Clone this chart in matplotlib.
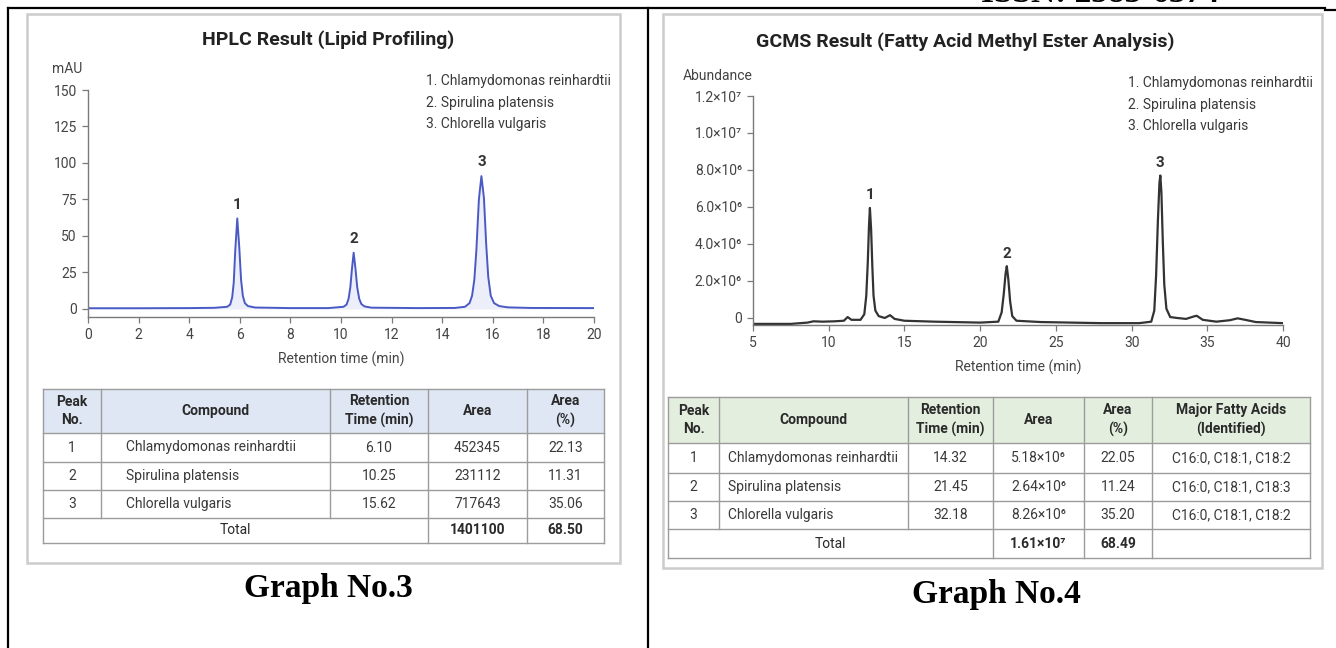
import matplotlib
matplotlib.use('Agg')
import matplotlib.pyplot as plt
from matplotlib.patches import Rectangle

plt.rcParams['font.family'] = ['Roboto', 'DejaVu Sans']

# HPLC chromatogram (min, mAU)
hplc_time = [0.0, 2.0, 4.0, 5.0, 5.5, 5.62, 5.7, 5.76, 5.82, 5.9, 5.98, 6.05, 6.12, 6.2, 6.32, 6.6,
             8.0, 9.5, 10.1, 10.22, 10.3, 10.37, 10.43, 10.5, 10.57, 10.64, 10.72, 10.8, 10.92, 11.2,
             13.0, 14.5, 14.9, 15.08, 15.18, 15.27, 15.35, 15.45, 15.55, 15.65, 15.74, 15.82, 15.92,
             16.05, 16.25, 16.6, 17.5, 20.0]
hplc_mau = [0.5, 0.5, 0.6, 0.8, 1.5, 3.0, 8.0, 18.0, 40.0, 62.0, 42.0, 20.0, 9.0, 4.0, 2.0, 1.0,
            0.6, 0.6, 1.5, 3.0, 7.0, 15.0, 27.0, 38.5, 28.0, 15.0, 7.0, 3.5, 1.8, 0.9,
            0.6, 0.7, 1.5, 4.0, 9.0, 20.0, 40.0, 75.0, 91.0, 76.0, 44.0, 22.0, 9.0,
            4.0, 2.0, 1.1, 0.7, 0.6]
hplc_peak_time = [5.9, 10.5, 15.55]
hplc_peak_mau = [62.0, 38.5, 91.0]
hplc_xticks = [0, 2, 4, 6, 8, 10, 12, 14, 16, 18, 20]
hplc_yticks = [0, 25, 50, 75, 100, 125, 150]

# GCMS trace (min, abundance in millions)
gcms_time = [5.0, 7.5, 8.6, 9.0, 9.6, 10.4, 11.0, 11.25, 11.5, 12.1,
             12.35, 12.48, 12.58, 12.66, 12.72, 12.8, 12.88, 12.96, 13.08, 13.3,
             13.7, 14.05, 14.35, 15.0, 17.0, 20.0,
             21.2, 21.42, 21.56, 21.68, 21.76, 21.86, 21.98, 22.12, 22.4,
             24.0, 28.0, 30.5,
             31.3, 31.5, 31.62, 31.74, 31.84, 31.9, 31.97, 32.06, 32.16, 32.3,
             32.55, 33.0, 33.6, 34.1, 34.3, 34.7, 35.6, 36.5, 37.0, 37.5, 38.2, 40.0]
gcms_abund = [-0.32, -0.32, -0.25, -0.18, -0.2, -0.18, -0.15, 0.05, -0.1, -0.1,
              0.2, 1.2, 3.0, 5.0, 5.95, 4.8, 2.8, 1.2, 0.4, 0.1,
              0.0, 0.15, -0.05, -0.15, -0.2, -0.25,
              -0.2, 0.3, 1.3, 2.4, 2.8, 2.1, 0.9, 0.1, -0.15,
              -0.22, -0.28, -0.28,
              -0.2, 0.4, 2.3, 5.3, 7.3, 7.7, 6.8, 4.2, 1.8, 0.5,
              0.05, 0.0, -0.05, 0.08, 0.12, -0.1, -0.2, -0.12, -0.02, -0.1, -0.22, -0.28]
gcms_peak_time = [12.72, 21.76, 31.9]
gcms_peak_abund = [5.95, 2.8, 7.7]
gcms_xticks = [5, 10, 15, 20, 25, 30, 35, 40]
gcms_yticks = [0, 2, 4, 6, 8, 10, 12]
gcms_ytick_labels = ['0', '2.0×10⁶', '4.0×10⁶', '6.0×10⁶', '8.0×10⁶', '1.0×10⁷', '1.2×10⁷']

peak_no = ['1', '2', '3']
species = ['Chlamydomonas reinhardtii', 'Spirulina platensis', 'Chlorella vulgaris']

hplc_rt = ['6.10', '10.25', '15.62']
hplc_area = ['452345', '231112', '717643']
hplc_pct = ['22.13', '11.31', '35.06']
hplc_total = ['1401100', '68.50']

gcms_rt = ['14.32', '21.45', '32.18']
gcms_area = ['5.18×10⁶', '2.64×10⁶', '8.26×10⁶']
gcms_pct = ['22.05', '11.24', '35.20']
gcms_acids = ['C16:0, C18:1, C18:2', 'C16:0, C18:1, C18:3', 'C16:0, C18:1, C18:2']
gcms_total = ['1.61×10⁷', '68.49', '']

hplc_header = ['Peak\nNo.', 'Compound', 'Retention\nTime (min)', 'Area', 'Area\n(%)']
gcms_header = ['Peak\nNo.', 'Compound', 'Retention\nTime (min)', 'Area', 'Area\n(%)',
               'Major Fatty Acids\n(Identified)']

W, H = 1336, 648
fig = plt.figure(figsize=(W / 100, H / 100), dpi=100)
ov = fig.add_axes([0, 0, 1, 1], zorder=0)
ov.set_xlim(0, W)
ov.set_ylim(H, 0)
ov.axis('off')

TXT = '#3a3a3a'
GRID = '#9c9c9c'
FS = 10


def px_axes(l, t, r, b):
    ax = fig.add_axes([l / W, 1 - b / H, (r - l) / W, (b - t) / H], zorder=2)
    ax.patch.set_alpha(0)
    for s in ['top', 'right']:
        ax.spines[s].set_visible(False)
    for s in ['left', 'bottom']:
        ax.spines[s].set_color('#7a7a7a')
        ax.spines[s].set_linewidth(1)
    ax.tick_params(direction='out', length=4, width=0.9, color='#7a7a7a',
                   labelsize=10, labelcolor='#444444', pad=4)
    return ax


def draw_table(xs, ys, header, rows, total, head_color, pad):
    x0, x1 = xs[0], xs[-1]
    ov.add_patch(Rectangle((x0, ys[0]), x1 - x0, ys[1] - ys[0], facecolor=head_color,
                           edgecolor='none'))
    for y in ys:
        ov.plot([x0, x1], [y, y], color=GRID, lw=1)
    for j, x in enumerate(xs):
        y_end = ys[-2] if j in (1, 2) else ys[-1]
        ov.plot([x, x], [ys[0], y_end], color=GRID, lw=1)
    for j, h in enumerate(header):
        ov.text((xs[j] + xs[j + 1]) / 2, (ys[0] + ys[1]) / 2, h, ha='center', va='center',
                fontsize=FS, fontweight='bold', linespacing=1.4, color='#2a2a2a')
    for i, row in enumerate(rows):
        yc = (ys[i + 1] + ys[i + 2]) / 2
        for j, v in enumerate(row):
            if j == 1:
                ov.text(xs[1] + pad, yc, v, ha='left', va='center', fontsize=FS, color=TXT)
            else:
                ov.text((xs[j] + xs[j + 1]) / 2, yc, v, ha='center', va='center',
                        fontsize=FS, color=TXT)
    yc = (ys[-2] + ys[-1]) / 2
    ov.text((xs[0] + xs[3]) / 2, yc, 'Total', ha='center', va='center', fontsize=FS,
            color='#2a2a2a')
    for k, v in enumerate(total):
        ov.text((xs[3 + k] + xs[4 + k]) / 2, yc, v, ha='center', va='center', fontsize=FS,
                fontweight='bold', color='#2a2a2a')


# page frame
ov.plot([8, 1325], [8, 8], color='black', lw=1.6)
ov.plot([1325, W], [10, 10], color='black', lw=1.6)
ov.plot([8, 8], [8, H], color='black', lw=1.6)
ov.plot([648, 648], [8, H], color='black', lw=1.6)
# page header above, cut off by the crop
ov.text(1100, 1.5, 'ISSN: 2583-6374', ha='center', va='baseline', fontsize=24,
        family='Liberation Serif', fontweight='bold')

# cards
ov.add_patch(Rectangle((27, 14), 593, 549, facecolor='white', edgecolor='#cccccc', lw=1.8))
ov.add_patch(Rectangle((663, 14), 659, 554, facecolor='white', edgecolor='#cccccc', lw=1.8))

# ---- HPLC panel ----
ov.text(328, 40, 'HPLC Result (Lipid Profiling)', ha='center', va='center', fontsize=14,
        fontweight='bold', color='#222222')
ov.text(52, 69, 'mAU', ha='left', va='center', fontsize=FS, color='#444444')
for i, s in enumerate(species):
    ov.text(426, 81 + 21.5 * i, f'{peak_no[i]}. {s}', ha='left', va='center', fontsize=FS,
            color=TXT)

ax1 = px_axes(88, 90, 594, 317)
ax1.fill_between(hplc_time, hplc_mau, 0, color='#c9cff0', alpha=0.35, lw=0)
ax1.plot(hplc_time, hplc_mau, color='#4a5ac4', lw=1.4)
ax1.set_xlim(0, 20)
ax1.set_ylim(-5.5, 150)
ax1.set_xticks(hplc_xticks)
ax1.set_yticks(hplc_yticks)
ax1.set_xlabel('Retention time (min)', fontsize=FS, color='#444444', labelpad=7)
for n, t, h in zip(peak_no, hplc_peak_time, hplc_peak_mau):
    ax1.annotate(n, (t, h), xytext=(0, 5), textcoords='offset points', ha='center',
                 va='bottom', fontsize=11, fontweight='bold', color='#333333')

hplc_rows = list(zip(peak_no, species, hplc_rt, hplc_area, hplc_pct))
draw_table([43, 101, 330, 428, 527, 604], [389, 433, 462, 490, 518, 543], hplc_header,
           hplc_rows, hplc_total, '#dfe7f4', 25)
ov.text(328, 589, 'Graph No.3', ha='center', va='center', fontsize=24,
        family='Liberation Serif', fontweight='bold')

# ---- GCMS panel ----
ov.text(965, 42, 'GCMS Result (Fatty Acid Methyl Ester Analysis)', ha='center', va='center',
        fontsize=14, fontweight='bold', color='#222222')
ov.text(683, 76, 'Abundance', ha='left', va='center', fontsize=FS, color='#444444')
for i, s in enumerate(species):
    ov.text(1128, 83 + 21.5 * i, f'{peak_no[i]}. {s}', ha='left', va='center', fontsize=FS,
            color=TXT)

ax2 = px_axes(753, 96, 1283, 325)
ax2.plot(gcms_time, gcms_abund, color='#333333', lw=1.6)
ax2.set_xlim(5, 40)
ax2.set_ylim(-0.38, 12)
ax2.set_xticks(gcms_xticks)
ax2.set_yticks(gcms_yticks)
ax2.set_yticklabels(gcms_ytick_labels)
ax2.set_xlabel('Retention time (min)', fontsize=FS, color='#444444', labelpad=7)
for n, t, h in zip(peak_no, gcms_peak_time, gcms_peak_abund):
    ax2.annotate(n, (t, h), xytext=(0, 4), textcoords='offset points', ha='center',
                 va='bottom', fontsize=11, fontweight='bold', color='#333333')

gcms_rows = list(zip(peak_no, species, gcms_rt, gcms_area, gcms_pct, gcms_acids))
draw_table([668, 719, 908, 993, 1084, 1152, 1310], [397, 443, 473, 501, 529, 558], gcms_header,
           gcms_rows, gcms_total, '#e3eedf', 9)
ov.text(996, 594, 'Graph No.4', ha='center', va='center', fontsize=24,
        family='Liberation Serif', fontweight='bold')

fig.savefig('out.png', dpi=100)
